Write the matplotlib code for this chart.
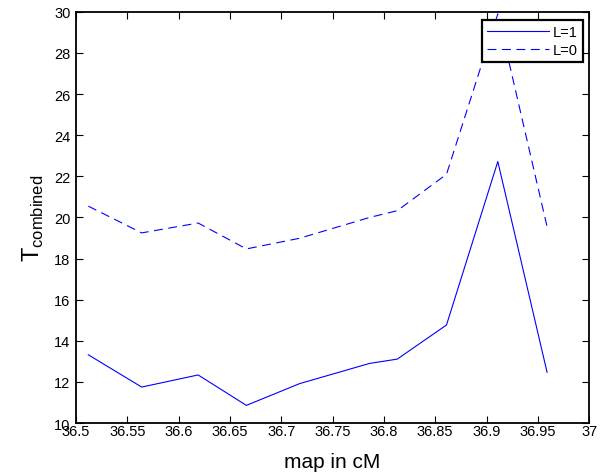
import numpy as np
import matplotlib.pyplot as plt

plt.rcParams['font.family'] = ['Liberation Sans', 'DejaVu Sans']
plt.rcParams['mathtext.fontset'] = 'custom'
plt.rcParams['mathtext.rm'] = 'Liberation Sans'

map_cm = [36.512, 36.564, 36.619, 36.666, 36.718, 36.786, 36.813, 36.861, 36.911, 36.959]
t_L1 = [13.32, 11.75, 12.34, 10.86, 11.92, 12.90, 13.11, 14.77, 22.72, 12.47]
t_L0 = [20.55, 19.25, 19.73, 18.47, 18.99, 20.00, 20.33, 22.10, 29.90, 19.55]

fig = plt.figure(figsize=(6.08, 4.77), dpi=100)
ax = fig.add_axes([0.125, 0.111, 0.844, 0.862])

ax.plot(map_cm, t_L1, color='blue', lw=0.8, label='L=1')
ax.plot(map_cm, t_L0, color='blue', lw=0.8, ls=(0, (8, 5)), label='L=0')

ax.set_xlim(36.5, 37)
ax.set_ylim(10, 30)
ax.set_xticks(np.arange(36.5, 37.01, 0.05))
ax.set_xticklabels(['36.5', '36.55', '36.6', '36.65', '36.7', '36.75', '36.8',
                    '36.85', '36.9', '36.95', '37'])
ax.set_yticks(np.arange(10, 31, 2))
ax.tick_params(direction='in', top=True, right=True, labelsize=10.5, length=5, width=0.8)
ax.tick_params(axis='x', pad=1)
ax.tick_params(axis='y', pad=4)
for s in ax.spines.values():
    s.set_linewidth(1.3)

ax.set_xlabel('map in cM', fontsize=15, labelpad=10)
ax.set_ylabel(r'T$_{\rm combined}$', fontsize=17, labelpad=6)

leg = ax.legend(loc='upper right', fontsize=10.5, fancybox=False, framealpha=1,
                handlelength=4.2, handletextpad=0.3,
                borderpad=0.35, labelspacing=0.3, borderaxespad=0,
                bbox_to_anchor=(0.988, 0.981))
leg.get_frame().set_edgecolor('black')
leg.get_frame().set_linewidth(1.6)

fig.savefig('out.png', dpi=100)
